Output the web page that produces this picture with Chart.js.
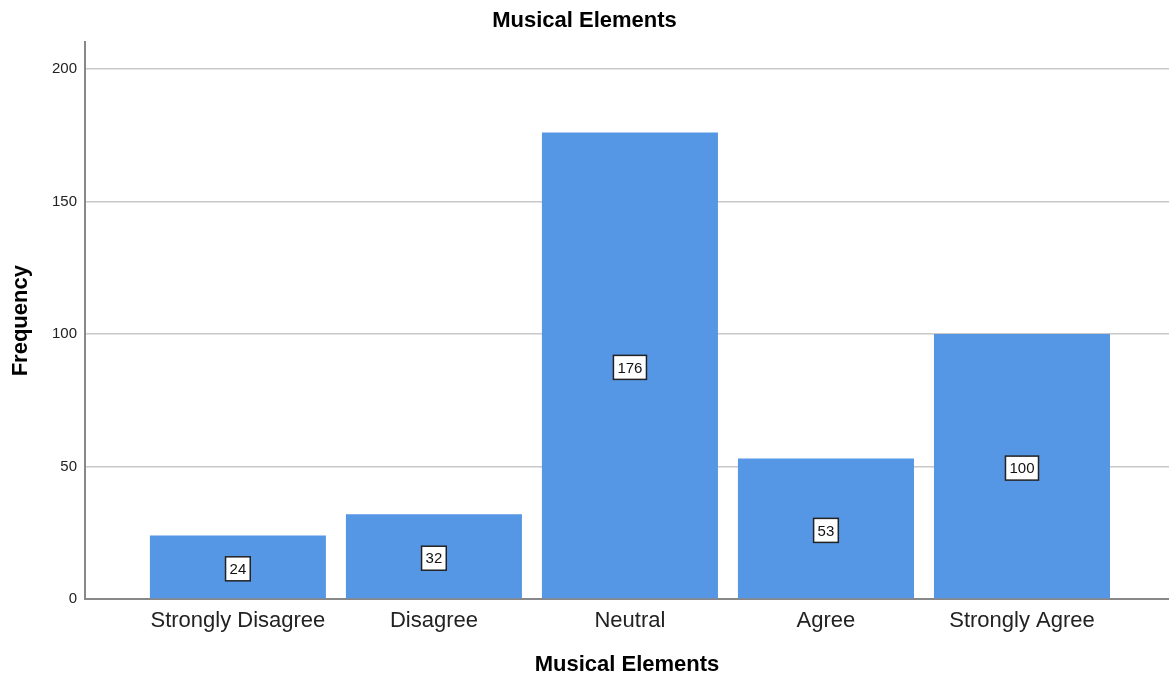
<!DOCTYPE html>
<html>
<head>
<meta charset="utf-8">
<script src="https://cdn.jsdelivr.net/npm/chart.js@4/dist/chart.umd.min.js"></script>
<style>
  html, body { margin: 0; padding: 0; background: #fff; }
  #wrap { width: 1169px; height: 680px; }
</style>
</head>
<body>
<div id="wrap"><canvas id="chart" width="1169" height="680"></canvas></div>
<script>
'use strict';

var categories = ['Strongly Disagree', 'Disagree', 'Neutral', 'Agree', 'Strongly Agree'];
var frequencies = [24, 32, 176, 53, 100];
var yTicks = [0, 50, 100, 150, 200];

var FONT = '"Liberation Sans", Arial, sans-serif';
var BAR_COLOR = '#5596e5';

/** 在柱子中部绘制带边框的数值标签 */
var boxLabels = {
  id: 'boxLabels',
  afterDatasetsDraw: function (chart) {
    var ctx = chart.ctx;
    var meta = chart.getDatasetMeta(0);
    ctx.save();
    ctx.font = '15px ' + FONT;
    ctx.textAlign = 'center';
    ctx.textBaseline = 'middle';
    meta.data.forEach(function (bar, i) {
      var text = String(frequencies[i]);
      var cx = bar.x;
      var cy = (bar.y + bar.base) / 2 + 2;
      var w = ctx.measureText(text).width + 8;
      var h = 24;
      ctx.fillStyle = '#ffffff';
      ctx.fillRect(cx - w / 2, cy - h / 2, w, h);
      ctx.lineWidth = 1.5;
      ctx.strokeStyle = '#222222';
      ctx.strokeRect(cx - w / 2, cy - h / 2, w, h);
      ctx.fillStyle = '#111111';
      ctx.fillText(text, cx, cy + 1);
    });
    ctx.restore();
  }
};

new Chart(document.getElementById('chart'), {
  type: 'bar',
  data: {
    datasets: [{
      data: categories.map(function (c, i) { return { x: i, y: frequencies[i] }; }),
      backgroundColor: BAR_COLOR,
      borderWidth: 0,
      categoryPercentage: 1,
      barPercentage: 0.898
    }]
  },
  options: {
    responsive: false,
    animation: false,
    layout: { padding: 0 },
    plugins: {
      legend: { display: false },
      tooltip: { enabled: false },
      title: {
        display: true,
        text: 'Musical Elements',
        color: '#000',
        font: { family: FONT, size: 22, weight: 'bold' },
        padding: { top: 8, bottom: 8 }
      }
    },
    scales: {
      x: {
        type: 'linear',
        offset: false,
        min: -0.78,
        max: 4.75,
        afterBuildTicks: function (scale) {
          scale.ticks = categories.map(function (c, i) { return { value: i }; });
        },
        afterFit: function (scale) { scale.height = 81; },
        grid: { display: false, drawTicks: false, offset: false },
        border: { display: true, color: '#888888', width: 2 },
        ticks: {
          autoSkip: false,
          maxRotation: 0,
          padding: 9,
          color: '#222',
          font: { family: FONT, size: 22 },
          callback: function (v) { return categories[v]; }
        },
        title: {
          display: true,
          text: 'Musical Elements',
          color: '#000',
          font: { family: FONT, size: 22, weight: 'bold' },
          padding: { top: 0, bottom: 2 }
        }
      },
      y: {
        min: 0,
        max: 210,
        afterBuildTicks: function (scale) {
          scale.ticks = yTicks.map(function (v) { return { value: v }; });
        },
        afterFit: function (scale) { scale.width = 85; },
        grid: { color: '#c8c8c8', lineWidth: 1.5, drawTicks: false },
        border: { display: true, color: '#888888', width: 2 },
        ticks: {
          padding: 8,
          color: '#222',
          font: { family: FONT, size: 15 }
        },
        title: {
          display: true,
          text: 'Frequency',
          color: '#000',
          font: { family: FONT, size: 22, weight: 'bold' },
          padding: { top: 8, bottom: 0 }
        }
      }
    }
  },
  plugins: [boxLabels]
});
</script>
</body>
</html>
